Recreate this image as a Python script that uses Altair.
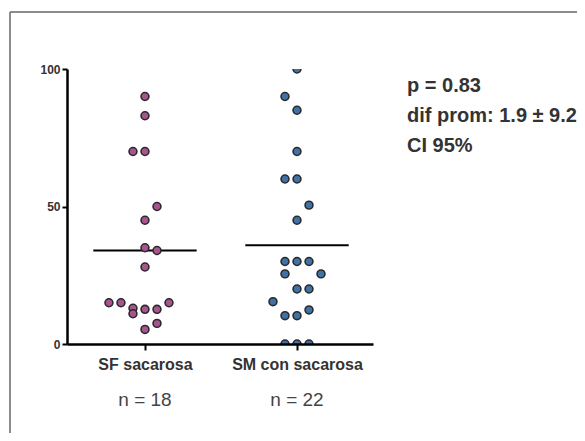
import altair as alt
import pandas as pd

# ---- data ----
categories = ["SF sacarosa", "SM con sacarosa"]
sf_values = [90, 83, 70, 70, 50, 45, 35, 34, 28, 15, 15, 13, 11, 12.6, 12.6, 15, 7.5, 5.3]
sf_slots = [0, 0, -1, 0, 1, 0, 0, 1, 0, -3, -2, -1, -1, 0, 1, 2, 1, 0]
sm_values = [100, 90, 85, 70, 60, 60, 50.5, 45, 30, 30, 30, 25.5, 25.5, 20, 20, 15.4, 10.3, 10.3, 12.4, 0, 0, 0]
sm_slots = [0, -1, 0, 0, -1, 0, 1, 0, -1, 0, 1, -1, 2, 0, 1, -2, -1, 0, 1, -1, 0, 1]
annot_lines = ["p = 0.83", "dif prom: 1.9 \u00b1 9.2", "CI 95%"]
colors = ["#a8558f", "#3f72a6"]

FONT = "'Liberation Sans', Arial, sans-serif"

rows = []
for v, s in zip(sf_values, sf_slots):
    rows.append({"group": categories[0], "gi": 1, "value": v, "slot": s})
for v, s in zip(sm_values, sm_slots):
    rows.append({"group": categories[1], "gi": 3, "value": v, "slot": s})
df = pd.DataFrame(rows)

annot = pd.DataFrame({"line": annot_lines, "row": list(range(len(annot_lines)))})

xscale = alt.Scale(domain=[-0.026, 4.0], nice=False, zero=False)
yscale = alt.Scale(domain=[0, 100], nice=False)

base = alt.Chart(df)

points = base.transform_calculate(
    xpos="datum.gi + datum.slot * 0.158"
).mark_circle(size=62, stroke="#2a2a2a", strokeWidth=1.6, opacity=1, clip=True).encode(
    x=alt.X("xpos:Q", scale=xscale, title=None,
            axis=alt.Axis(values=[1, 3],
                          labelExpr="datum.value == 1 ? 'SF sacarosa' : 'SM con sacarosa'",
                          grid=False, tickSize=6, labelPadding=6,
                          labelFont=FONT, labelFontWeight="bold",
                          labelFontSize=16, labelColor="#333333",
                          domainColor="black", domainWidth=2.5, tickColor="black",
                          tickWidth=2, zindex=1)),
    y=alt.Y("value:Q", scale=yscale, title=None,
            axis=alt.Axis(values=[0, 50, 100], grid=False, tickSize=5, labelPadding=2,
                          labelFont=FONT, labelFontWeight="bold",
                          labelFontSize=12, labelColor="#333333",
                          domainColor="black", domainWidth=2.5, tickColor="black",
                          tickWidth=2, zindex=1)),
    fill=alt.Fill("group:N", scale=alt.Scale(domain=categories, range=colors), legend=None),
)

means = base.transform_aggregate(
    mean_value="mean(value)", groupby=["gi"]
).transform_calculate(
    x1="datum.gi - 0.68", x2="datum.gi + 0.68"
).mark_rule(color="black", strokeWidth=2).encode(
    x=alt.X("x1:Q", scale=xscale),
    x2="x2:Q",
    y=alt.Y("mean_value:Q", scale=yscale),
)

ncount = base.transform_aggregate(
    n="count()", groupby=["gi"]
).transform_calculate(
    label="'n = ' + datum.n"
).mark_text(font=FONT, fontSize=19, color="#444444",
            baseline="middle", align="center").encode(
    x=alt.X("gi:Q", scale=xscale),
    y=alt.value(331),
    text="label:N",
)

annot_text = alt.Chart(annot).transform_calculate(
    ypix="17 + datum.row * 30"
).mark_text(font=FONT, fontWeight="bold", fontSize=20,
            color="#333333", align="left", baseline="middle").encode(
    x=alt.value(340),
    y=alt.Y("ypix:Q", scale=None),
    text="line:N",
)

border_top = alt.Chart(pd.DataFrame({"a": [0]})).mark_rule(
    color="#666666", strokeWidth=1.5).encode(
    x=alt.value(-57), x2=alt.value(600), y=alt.value(-57))
border_left = alt.Chart(pd.DataFrame({"a": [0]})).mark_rule(
    color="#666666", strokeWidth=1.5).encode(
    x=alt.value(-57), y=alt.value(-57), y2=alt.value(500))

chart = alt.layer(border_top, border_left, means, points, ncount, annot_text).properties(
    width=306, height=275,
    padding={"left": 59, "top": 61, "right": 204, "bottom": 89},
    autosize=alt.AutoSizeParams(type="none"),
).configure_view(stroke=None)

chart.save("out.html", embed_options={"renderer": "svg", "actions": False})
